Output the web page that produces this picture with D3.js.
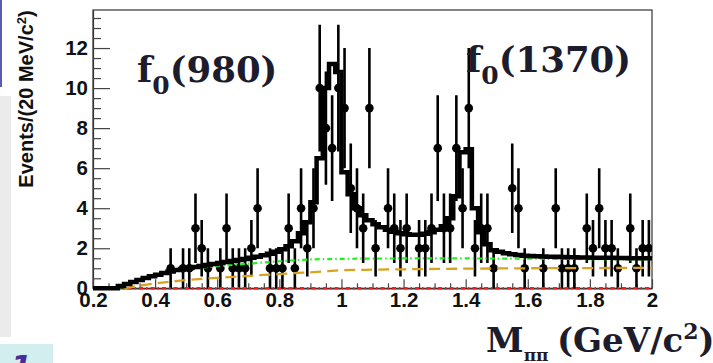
<!DOCTYPE html>
<html><head><meta charset="utf-8">
<script src="https://cdn.jsdelivr.net/npm/d3@7/dist/d3.min.js"></script>
<style>body{margin:0;background:#fff;overflow:hidden}svg{display:block}</style>
</head><body>
<svg id="c" width="713" height="363"></svg>
<script>
// ---- data ----
const binStart = 0.2, binWidth = 0.02;
// fit (total) histogram, one value per 20 MeV bin from 0.20 to 2.00
const fitValues = [
  0,0,0,0,0.12,0.22,0.32,0.42,0.51,0.6,
  0.68,0.76,0.84,0.91,0.97,1.02,1.07,1.12,1.16,1.21,
  1.26,1.31,1.36,1.41,1.46,1.52,1.58,1.65,1.73,1.83,
  1.95,2.1,2.35,2.75,3.3,4.3,6.5,10.0,11.2,10.8,
  5.8,4.7,4.0,3.65,3.4,3.2,3.05,2.92,2.82,2.75,
  2.7,2.68,2.68,2.72,2.8,2.92,3.1,3.5,4.6,6.8,
  6.95,4.0,2.8,2.2,1.9,1.82,1.75,1.7,1.66,1.63,
  1.61,1.6,1.59,1.58,1.57,1.56,1.55,1.55,1.54,1.54,
  1.53,1.53,1.52,1.52,1.51,1.51,1.5,1.5,1.5,1.5
];
const pointMass = [0.45,0.49,0.51,0.53,0.55,0.57,0.61,0.63,0.65,0.67,0.69,0.71,0.73,0.77,0.79,0.81,0.83,0.85,0.87,0.89,0.91,
  0.93,0.95,0.97,0.99,1.01,1.03,1.05,1.07,1.09,1.11,1.15,1.17,1.19,1.21,1.25,1.27,1.29,1.31,1.33,1.35,1.37,1.39,1.41,
  1.43,1.45,1.47,1.49,1.55,1.57,1.59,1.65,1.69,1.71,1.73,1.75,1.79,1.81,1.83,1.85,1.87,1.89,1.93,1.95,1.97,1.99];
const pointCounts = [1,1,1,3,2,1,1,3,1,1,1,2,4,1,1,1,3,1,4,2,4,
  10,8,7,10,9,5,4,3,9,2,4,3,2,3,2,2,3,7,3,3,7,4,9,
  2,3,3,1,5,4,1,1,4,1,1,1,3,2,4,2,2,1,3,1,2,2];
const greenMass   = [0.28,0.3,0.35,0.4,0.45,0.5,0.55,0.6,0.65,0.7,0.75,0.8,0.85,0.9,1.0,1.2,1.4,1.6,1.8,2.0];
const greenValues = [0,0.12,0.4,0.62,0.8,0.93,1.03,1.1,1.17,1.23,1.29,1.35,1.4,1.44,1.47,1.49,1.49,1.48,1.46,1.44];
const orangeMass   = [0.3,0.35,0.4,0.45,0.5,0.55,0.6,0.65,0.7,0.75,0.8,0.85,0.9,0.95,1.0,1.1,1.2,1.4,1.6,1.8,2.0];
const orangeValues = [0,0.13,0.24,0.33,0.41,0.47,0.52,0.57,0.62,0.67,0.71,0.76,0.8,0.85,0.9,0.93,0.95,0.98,1.0,1.01,1.02];
const redMass = [0.2,2.0];
const redValues = [0,0];
const xTicks = [0.2,0.4,0.6,0.8,1.0,1.2,1.4,1.6,1.8,2.0];
const xTickLabels = ["0.2","0.4","0.6","0.8","1","1.2","1.4","1.6","1.8","2"];
const yTicks = [0,2,4,6,8,10,12];
const yTickLabels = ["0","2","4","6","8","10","12"];

// ---- layout ----
const svg = d3.select("#c");
const X0 = 93, X1 = 652, Y0 = 288.3, Y1 = 10;
const x = d3.scaleLinear().domain([0.2, 2.0]).range([X0, X1]);
const y = d3.scaleLinear().domain([0, 13.9]).range([Y0, Y1]);

// background decorations (slide fragments at left)
svg.append("rect").attr("x",0).attr("y",0).attr("width",2).attr("height",87).attr("fill","#5b5bb0");
svg.append("rect").attr("x",0).attr("y",96).attr("width",11).attr("height",241).attr("fill","#ebebeb");
svg.append("rect").attr("x",0).attr("y",344).attr("width",53).attr("height",19).attr("fill","#d3eeee");
svg.append("text").attr("x",11).attr("y",377).attr("font-family","DejaVu Sans").attr("font-weight","bold")
  .attr("font-style","italic").attr("font-size",30).attr("fill","#4b2a9a").text("1");

svg.append("defs").append("clipPath").attr("id","pc").append("rect")
  .attr("x",X0).attr("y",Y1).attr("width",X1-X0).attr("height",Y0-Y1+3);

// frame
svg.append("rect").attr("x",X0).attr("y",Y1).attr("width",X1-X0).attr("height",Y0-Y1)
  .attr("fill","none").attr("stroke","#333").attr("stroke-width",1.2);

// axes
const yMinor = d3.range(0, 14, 0.5).filter(v => v % 2 !== 0);
const xMinor = d3.range(0.2, 2.0001, 0.05).filter(v => Math.abs(Math.round(v*5)-v*5) > 1e-6);
const tickFont = "Liberation Sans, Arial, sans-serif";

svg.append("g").attr("transform",`translate(${X0},0)`)
  .call(d3.axisLeft(y).tickValues(yTicks).tickSize(-17).tickSizeOuter(0).tickPadding(5)
    .tickFormat((d,i)=>yTickLabels[i]));
svg.append("g").attr("transform",`translate(${X0},0)`)
  .call(d3.axisLeft(y).tickValues(yMinor).tickSize(-8).tickSizeOuter(0).tickFormat(""))
  .select(".domain").remove();
svg.append("g").attr("transform",`translate(0,${Y0})`)
  .call(d3.axisBottom(x).tickValues(xTicks).tickSize(-9).tickSizeOuter(0).tickPadding(4)
    .tickFormat((d,i)=>xTickLabels[i]));
svg.append("g").attr("transform",`translate(0,${Y0})`)
  .call(d3.axisBottom(x).tickValues(xMinor).tickSize(-5).tickSizeOuter(0).tickFormat(""))
  .select(".domain").remove();
svg.selectAll(".tick line").attr("stroke","#444").attr("stroke-width",1.2);
svg.selectAll(".domain").attr("stroke","#333").attr("stroke-width",1.2);
svg.selectAll(".tick text").attr("font-family",tickFont).attr("font-weight","bold")
  .attr("font-size",20.5).attr("fill","#111");

const plot = svg.append("g").attr("clip-path","url(#pc)");

// data points with sqrt(N) errors
const pts = pointMass.map((m,i)=>({m, n: pointCounts[i]}));
plot.selectAll("line.err").data(pts).join("line").attr("class","err")
  .attr("x1",d=>x(d.m)).attr("x2",d=>x(d.m))
  .attr("y1",d=>y(d.n+Math.sqrt(d.n))).attr("y2",d=>y(Math.max(0,d.n-Math.sqrt(d.n))))
  .attr("stroke","#000").attr("stroke-width",2.6);
plot.selectAll("circle.pt").data(pts).join("circle").attr("class","pt")
  .attr("cx",d=>x(d.m)).attr("cy",d=>y(d.n)).attr("r",4.3).attr("fill","#000");

// red baseline (dotted)
plot.append("path").datum(redMass.map((m,i)=>[m,redValues[i]]))
  .attr("d",d3.line().x(d=>x(d[0])).y(d=>y(d[1])))
  .attr("fill","none").attr("stroke","#ff1a1a").attr("stroke-width",2.4).attr("stroke-dasharray","4,3,1.5,3");

// orange dashed component
plot.append("path").datum(orangeMass.map((m,i)=>[m,orangeValues[i]]))
  .attr("d",d3.line().curve(d3.curveMonotoneX).x(d=>x(d[0])).y(d=>y(d[1])))
  .attr("fill","none").attr("stroke","#d9a21f").attr("stroke-width",2.3).attr("stroke-dasharray","11,6");

// green dash-dot component
plot.append("path").datum(greenMass.map((m,i)=>[m,greenValues[i]]))
  .attr("d",d3.line().curve(d3.curveMonotoneX).x(d=>x(d[0])).y(d=>y(d[1])))
  .attr("fill","none").attr("stroke","#22ee22").attr("stroke-width",2.2).attr("stroke-dasharray","5,3,1.5,3");

// total fit histogram (step)
const steps = fitValues.map((v,i)=>[binStart + i*binWidth, v]);
steps.push([binStart + fitValues.length*binWidth, fitValues[fitValues.length-1]]);
plot.append("path").datum(steps)
  .attr("d",d3.line().curve(d3.curveStepAfter).x(d=>x(d[0])).y(d=>y(d[1])))
  .attr("fill","none").attr("stroke","#000").attr("stroke-width",4.5).attr("stroke-linejoin","miter");

// annotations
const serif = "DejaVu Serif, serif";
const ann = [{x:137, y:82, a:"f", b:"0", c:"(980)"},{x:466, y:72, a:"f", b:"0", c:"(1370)"}];
ann.forEach(o=>{
  const t = svg.append("text").attr("x",o.x).attr("y",o.y).attr("font-family",serif)
    .attr("font-weight","bold").attr("font-size",35.5).attr("fill","#1c1c2c");
  t.append("tspan").text(o.a);
  t.append("tspan").attr("dy",12).attr("font-size",25).text(o.b);
  t.append("tspan").attr("dy",-12).text(o.c);
});

// axis titles
const xt = svg.append("text").attr("x",486).attr("y",352).attr("font-family",serif)
  .attr("font-weight","bold").attr("font-size",34).attr("fill","#1c1c2c");
xt.append("tspan").text("M");
xt.append("tspan").attr("dy",9).attr("font-size",17).text("ππ");
xt.append("tspan").attr("dy",-9).attr("x",557).text("(GeV/c");
xt.append("tspan").attr("dy",-13).attr("font-size",22).text("2");
xt.append("tspan").attr("dy",13).text(")");

const yt = svg.append("text").attr("transform","translate(33,99) rotate(-90)")
  .attr("text-anchor","middle").attr("font-family",tickFont).attr("font-weight","bold")
  .attr("font-size",20).attr("fill","#111");
yt.append("tspan").text("Events/(20 MeV/c");
yt.append("tspan").attr("dy",-7).attr("font-size",13).text("2");
yt.append("tspan").attr("dy",7).text(")");
</script>
</body></html>
